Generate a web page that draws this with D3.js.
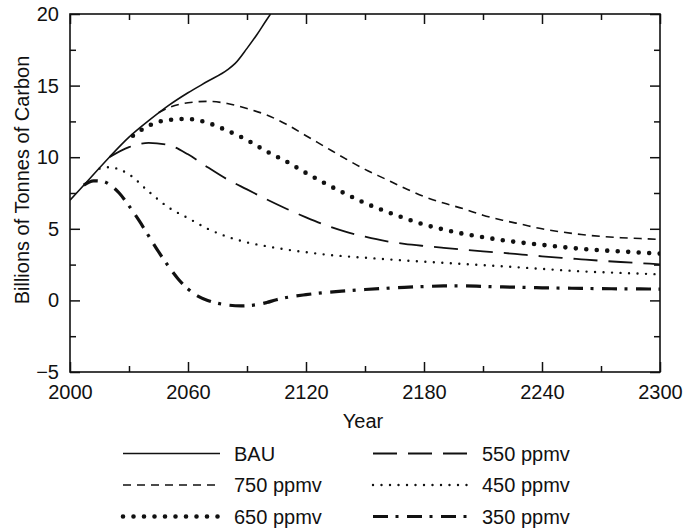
<!DOCTYPE html>
<html>
<head>
<meta charset="utf-8">
<script src="https://cdn.jsdelivr.net/npm/d3@7"></script>
<style>
  html, body { margin: 0; padding: 0; background: #fff; }
  svg { display: block; }
  text { font-family: "Liberation Sans", Arial, Helvetica, sans-serif; fill: #111; }
</style>
</head>
<body>
<svg id="chart" width="683" height="531"></svg>
<script>
// ---- Data ----
const bauYears   = [2000, 2010, 2020, 2030, 2040, 2050, 2060, 2070, 2080, 2084, 2090, 2095, 2100, 2102];
const bauValues  = [7.0, 8.5, 10.0, 11.4, 12.55, 13.6, 14.5, 15.3, 16.1, 16.55, 17.6, 18.55, 19.6, 20.0];

const ppm750Years  = [2045, 2050, 2060, 2070, 2080, 2090, 2100, 2110, 2120, 2130, 2140, 2150, 2160, 2170, 2180, 2190, 2200, 2210, 2220, 2230, 2240, 2250, 2260, 2270, 2280, 2290, 2300];
const ppm750Values = [13.1, 13.45, 13.8, 13.9, 13.75, 13.4, 12.95, 12.3, 11.5, 10.7, 9.9, 9.15, 8.5, 7.85, 7.25, 6.8, 6.4, 5.95, 5.6, 5.3, 5.0, 4.78, 4.6, 4.47, 4.38, 4.32, 4.25];

const ppm650Years  = [2032, 2040, 2050, 2060, 2070, 2080, 2090, 2100, 2110, 2120, 2130, 2140, 2150, 2160, 2170, 2180, 2190, 2200, 2210, 2220, 2230, 2240, 2250, 2260, 2270, 2280, 2290, 2300];
const ppm650Values = [11.5, 12.2, 12.6, 12.67, 12.4, 11.85, 11.2, 10.4, 9.7, 8.9, 8.15, 7.45, 6.8, 6.25, 5.75, 5.3, 4.95, 4.65, 4.42, 4.2, 4.03, 3.88, 3.73, 3.6, 3.5, 3.42, 3.34, 3.27];

const ppm550Years  = [2020, 2030, 2040, 2050, 2060, 2070, 2080, 2090, 2100, 2110, 2120, 2130, 2140, 2150, 2160, 2170, 2180, 2190, 2200, 2210, 2220, 2230, 2240, 2250, 2260, 2270, 2280, 2290, 2300];
const ppm550Values = [10.0, 10.7, 11.0, 10.85, 10.2, 9.3, 8.45, 7.75, 7.05, 6.4, 5.8, 5.25, 4.8, 4.45, 4.15, 3.95, 3.8, 3.67, 3.55, 3.43, 3.32, 3.2, 3.08, 2.97, 2.87, 2.77, 2.68, 2.6, 2.52];

const ppm450Years  = [2015, 2020, 2025, 2030, 2040, 2050, 2060, 2070, 2080, 2090, 2100, 2110, 2120, 2130, 2140, 2150, 2160, 2170, 2180, 2190, 2200, 2210, 2220, 2230, 2240, 2250, 2260, 2270, 2280, 2290, 2300];
const ppm450Values = [9.2, 9.3, 9.15, 8.8, 7.6, 6.5, 5.75, 5.0, 4.45, 4.05, 3.78, 3.55, 3.37, 3.2, 3.08, 2.98, 2.88, 2.79, 2.7, 2.62, 2.54, 2.46, 2.38, 2.29, 2.2, 2.11, 2.03, 1.97, 1.92, 1.87, 1.82];

const ppm350Years  = [2007, 2012, 2017, 2020, 2025, 2030, 2035, 2040, 2045, 2050, 2055, 2060, 2065, 2070, 2075, 2080, 2087, 2095, 2100, 2105, 2110, 2120, 2130, 2140, 2150, 2160, 2170, 2180, 2190, 2200, 2210, 2220, 2230, 2240, 2250, 2260, 2270, 2280, 2290, 2300];
const ppm350Values = [8.05, 8.35, 8.3, 8.1, 7.5, 6.6, 5.6, 4.5, 3.4, 2.4, 1.5, 0.8, 0.3, 0.0, -0.2, -0.32, -0.38, -0.3, -0.15, 0.05, 0.2, 0.4, 0.55, 0.66, 0.76, 0.84, 0.91, 0.97, 1.01, 1.02, 0.98, 0.94, 0.91, 0.88, 0.86, 0.84, 0.82, 0.81, 0.8, 0.79];

const seriesNames = ["BAU", "750 ppmv", "650 ppmv", "550 ppmv", "450 ppmv", "350 ppmv"];

const xMajorTicks = [2000, 2060, 2120, 2180, 2240, 2300];
const xMinorTicks = [2030, 2090, 2150, 2210, 2270];
const yMajorTicks = [-5, 0, 5, 10, 15, 20];
const yMinorTicks = [-2.5, 2.5, 7.5, 12.5, 17.5];

const xTitle = "Year";
const yTitle = "Billions of Tonnes of Carbon";

// ---- Styles (kept separate from data) ----
const styles = {
  "BAU":      { width: 1.6, dash: null,            cap: "butt" },
  "750 ppmv": { width: 1.6, dash: "8,6",            cap: "butt" },
  "650 ppmv": { width: 4.6, dash: "0,10.5",         cap: "round" },
  "550 ppmv": { width: 1.8, dash: "24,11",          cap: "butt" },
  "450 ppmv": { width: 2.4, dash: "0,8.5",          cap: "round" },
  "350 ppmv": { width: 3.2, dash: "15,7.5,3,8.5",   cap: "butt" }
};

const seriesData = [
  { name: "BAU",      years: bauYears,    values: bauValues },
  { name: "750 ppmv", years: ppm750Years, values: ppm750Values },
  { name: "650 ppmv", years: ppm650Years, values: ppm650Values },
  { name: "550 ppmv", years: ppm550Years, values: ppm550Values },
  { name: "450 ppmv", years: ppm450Years, values: ppm450Values },
  { name: "350 ppmv", years: ppm350Years, values: ppm350Values }
];

// ---- Layout ----
const plot = { left: 70, right: 660, top: 14, bottom: 372 };
const fontSize = 20;

const svg = d3.select("#chart");

const x = d3.scaleLinear().domain([2000, 2300]).range([plot.left, plot.right]);
const y = d3.scaleLinear().domain([-5, 20]).range([plot.bottom, plot.top]);

// clip
svg.append("defs").append("clipPath").attr("id", "clip")
  .append("rect")
  .attr("x", plot.left).attr("y", plot.top)
  .attr("width", plot.right - plot.left).attr("height", plot.bottom - plot.top);

// lines
const line = d3.line()
  .x(d => x(d[0]))
  .y(d => y(d[1]))
  .curve(d3.curveMonotoneX);

const gLines = svg.append("g").attr("clip-path", "url(#clip)");
seriesData.forEach(s => {
  const st = styles[s.name];
  const pts = s.years.map((yr, i) => [yr, s.values[i]]);
  gLines.append("path")
    .datum(pts)
    .attr("d", line)
    .attr("fill", "none")
    .attr("stroke", "#111")
    .attr("stroke-width", st.width)
    .attr("stroke-linecap", st.cap)
    .attr("stroke-linejoin", "round")
    .attr("stroke-dasharray", st.dash);
});

// axes helper
function styleAxis(g) {
  g.select(".domain").remove();
  g.selectAll(".tick line").attr("stroke", "#111").attr("stroke-width", 1.5);
  g.selectAll(".tick text")
    .style("font-size", fontSize + "px")
    .style("font-family", '"Liberation Sans", Arial, Helvetica, sans-serif')
    .attr("fill", "#111");
}

// Bottom axis (major with labels, minor ticks)
svg.append("g").attr("transform", `translate(0,${plot.bottom})`)
  .call(d3.axisBottom(x).tickValues(xMajorTicks).tickFormat(d3.format("d")).tickSizeInner(-10).tickSizeOuter(0).tickPadding(13))
  .call(styleAxis);
svg.append("g").attr("transform", `translate(0,${plot.bottom})`)
  .call(d3.axisBottom(x).tickValues(xMinorTicks).tickFormat("").tickSizeInner(-6).tickSizeOuter(0))
  .call(styleAxis);
// Top axis (ticks only)
svg.append("g").attr("transform", `translate(0,${plot.top})`)
  .call(d3.axisTop(x).tickValues(xMajorTicks).tickFormat("").tickSizeInner(-10).tickSizeOuter(0))
  .call(styleAxis);
svg.append("g").attr("transform", `translate(0,${plot.top})`)
  .call(d3.axisTop(x).tickValues(xMinorTicks).tickFormat("").tickSizeInner(-6).tickSizeOuter(0))
  .call(styleAxis);
// Left axis
svg.append("g").attr("transform", `translate(${plot.left},0)`)
  .call(d3.axisLeft(y).tickValues(yMajorTicks).tickFormat(d => d < 0 ? "\u2212" + Math.abs(d) : d).tickSizeInner(-10).tickSizeOuter(0).tickPadding(11))
  .call(styleAxis);
svg.append("g").attr("transform", `translate(${plot.left},0)`)
  .call(d3.axisLeft(y).tickValues(yMinorTicks).tickFormat("").tickSizeInner(-6).tickSizeOuter(0))
  .call(styleAxis);
// Right axis
svg.append("g").attr("transform", `translate(${plot.right},0)`)
  .call(d3.axisRight(y).tickValues(yMajorTicks).tickFormat("").tickSizeInner(-10).tickSizeOuter(0))
  .call(styleAxis);
svg.append("g").attr("transform", `translate(${plot.right},0)`)
  .call(d3.axisRight(y).tickValues(yMinorTicks).tickFormat("").tickSizeInner(-6).tickSizeOuter(0))
  .call(styleAxis);

// frame
svg.append("rect")
  .attr("x", plot.left).attr("y", plot.top)
  .attr("width", plot.right - plot.left).attr("height", plot.bottom - plot.top)
  .attr("fill", "none").attr("stroke", "#111").attr("stroke-width", 1.6);

// axis titles
svg.append("text")
  .attr("x", (plot.left + plot.right) / 2 - 2)
  .attr("y", 421)
  .attr("dy", "0.35em")
  .attr("text-anchor", "middle")
  .style("font-size", fontSize + "px")
  .text(xTitle);

svg.append("text")
  .attr("transform", "translate(22,180) rotate(-90)")
  .attr("dy", "0.35em")
  .attr("text-anchor", "middle")
  .style("font-size", fontSize + "px")
  .text(yTitle);

// legend
const legendOrder = ["BAU", "550 ppmv", "750 ppmv", "450 ppmv", "650 ppmv", "350 ppmv"];
const legCols = [{ x0: 123, x1: 220, tx: 234 }, { x0: 373, x1: 472, tx: 482 }];
const legRowY = [453.5, 485, 516.5];
const gLeg = svg.append("g");
legendOrder.forEach((name, i) => {
  const col = legCols[i % 2];
  const ry = legRowY[Math.floor(i / 2)];
  const st = styles[name];
  gLeg.append("line")
    .attr("x1", col.x0).attr("x2", col.x1)
    .attr("y1", ry).attr("y2", ry)
    .attr("stroke", "#111")
    .attr("stroke-width", st.width)
    .attr("stroke-linecap", st.cap)
    .attr("stroke-dasharray", st.dash);
  gLeg.append("text")
    .attr("x", col.tx).attr("y", ry)
    .attr("dy", "0.35em")
    .style("font-size", fontSize + "px")
    .text(name);
});
</script>
</body>
</html>
